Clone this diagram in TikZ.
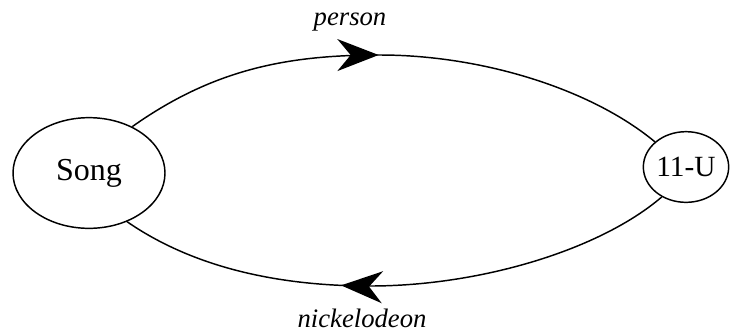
\documentclass[tikz,border=0pt]{standalone}
\usepackage{fontspec}
\setmainfont{Liberation Serif}
\usetikzlibrary{arrows.meta,decorations.markings,shapes.geometric}
\begin{document}
\begin{tikzpicture}[x=0.75pt,y=-0.75pt,
  blob/.style={draw,ellipse,line width=1.1pt,inner sep=0pt},
  conn/.style={line width=1.1pt},
  lbl/.style={font=\fontsize{20}{24}\selectfont\itshape},
  tipmark/.style={postaction={decorate},decoration={markings,
     mark=at position #1 with {\arrow{Stealth[length=31pt,width=24pt,inset=10pt]}}}}]
\useasboundingbox (0,0) rectangle (730,333);
\node[blob,minimum width=114pt,minimum height=83pt,font=\fontsize{24}{28}\selectfont] (song) at (89,173) {Song};
\node[blob,minimum width=64pt,minimum height=53pt,font=\fontsize{22}{26}\selectfont] (u) at (686,167) {11-U};
\draw[conn,tipmark=0.47] (song.47) .. controls (215,68) and (290,55) .. (380,55)
   .. controls (480,55) and (590,88) .. (u.141);
\draw[conn,tipmark=0.6] (u.231) .. controls (600,250) and (480,286) .. (370,286)
   .. controls (290,286) and (200,272) .. (song.-52);
\node[lbl] (p) at (350,22) {person};
\node[lbl] (n) at (362,318) {nickelodeon};
\end{tikzpicture}
\end{document}
